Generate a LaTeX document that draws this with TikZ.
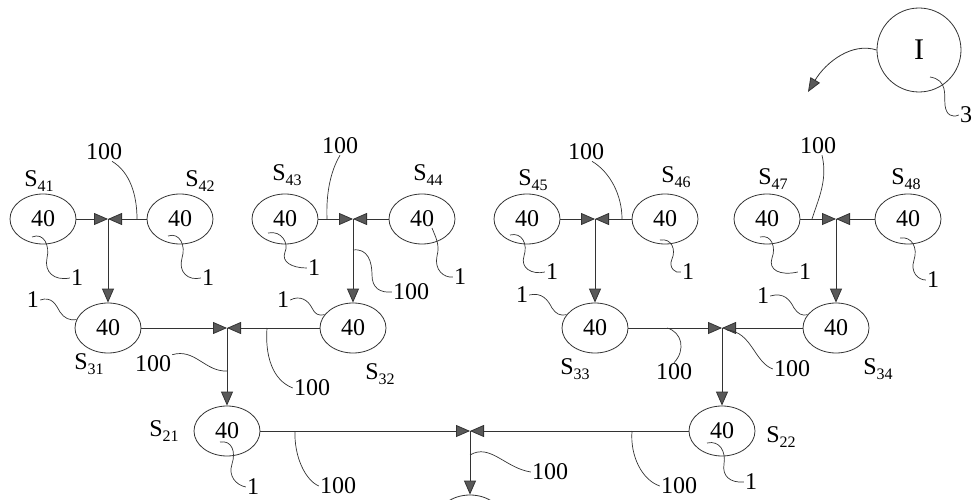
\documentclass[tikz,border=0pt]{standalone}
\usepackage{fontspec}
\setmainfont{Liberation Serif}
\usetikzlibrary{shapes.geometric,arrows.meta,calc}
\newcommand\mfs{\fontsize{24}{24}\selectfont}
\newcommand\sbs[1]{\raisebox{-5pt}{\fontsize{16}{16}\selectfont #1}}
\tikzset{
  unit/.style={ellipse, draw=black!80, line width=0.8pt, minimum width=66pt, minimum height=50pt, inner sep=0pt, font=\mfs},
  lbl/.style={inner sep=1pt, font=\mfs},
  arr/.style={draw=black!80, line width=0.8pt, -{Triangle[length=14pt,width=12pt,fill=black!65]}},
  lead/.style={draw=black!80, line width=0.7pt},
}
\begin{document}
\begin{tikzpicture}[x=1pt,y=-1pt]
\useasboundingbox (0,0) rectangle (972,500);
\clip (0,0) rectangle (972,500);
% ---------- units ----------
\node[unit] (s41) at (43,219) {40};
\node[unit] (s42) at (180,219) {40};
\node[unit] (s43) at (285,219) {40};
\node[unit] (s44) at (422,219) {40};
\node[unit] (s45) at (527,219) {40};
\node[unit] (s46) at (665,219) {40};
\node[unit] (s47) at (767,219) {40};
\node[unit] (s48) at (908,219) {40};
\node[unit] (s31) at (108,328) {40};
\node[unit] (s32) at (353,328) {40};
\node[unit] (s33) at (595,328) {40};
\node[unit] (s34) at (836,328) {40};
\node[unit] (s21) at (227,431) {40};
\node[unit] (s22) at (722,431) {40};
\node[unit] (s1) at (470,520) {};
% ---------- junctions ----------
\coordinate (j41) at (108,219);
\coordinate (j42) at (353,219);
\coordinate (j43) at (595,219);
\coordinate (j44) at (836,219);
\coordinate (j31) at (227,328);
\coordinate (j32) at (722,328);
\coordinate (j2) at (470,431);
% ---------- connectors ----------
\foreach \a/\b/\j/\c in {s41/s42/j41/s31, s43/s44/j42/s32, s45/s46/j43/s33, s47/s48/j44/s34, s31/s32/j31/s21, s33/s34/j32/s22, s21/s22/j2/s1}{
  \draw[arr] (\a) -- (\j);
  \draw[arr] (\b) -- (\j);
  \draw[arr] (\j) -- (\c);
}
% ---------- S labels ----------
\node[lbl] (n41) at (39,181) {S\sbs{41}};
\node[lbl] (n42) at (200,181) {S\sbs{42}};
\node[lbl] (n43) at (287,175) {S\sbs{43}};
\node[lbl] (n44) at (428,175) {S\sbs{44}};
\node[lbl] (n45) at (533,180) {S\sbs{45}};
\node[lbl] (n46) at (676,177) {S\sbs{46}};
\node[lbl] (n47) at (773,179) {S\sbs{47}};
\node[lbl] (n48) at (906,179) {S\sbs{48}};
\node[lbl] (n31) at (89,364) {S\sbs{31}};
\node[lbl] (n32) at (380,374) {S\sbs{32}};
\node[lbl] (n33) at (575,369) {S\sbs{33}};
\node[lbl] (n34) at (878,369) {S\sbs{34}};
\node[lbl] (n21) at (164,431) {S\sbs{21}};
\node[lbl] (n22) at (781,437) {S\sbs{22}};
% ---------- "1" labels and leaders ----------
\node[lbl] (l41) at (77,278) {1};
\node[lbl] (l42) at (208,278) {1};
\node[lbl] (l43) at (314,268) {1};
\node[lbl] (l44) at (460,277) {1};
\node[lbl] (l45) at (552,272) {1};
\node[lbl] (l46) at (688,272) {1};
\node[lbl] (l47) at (805,272) {1};
\node[lbl] (l48) at (933,280) {1};
\draw[lead] (32,237) .. controls (44,232) and (50,246) .. (47,258) .. controls (44,272) and (54,281) .. (l41.west);
\draw[lead] (168,236) .. controls (180,232) and (186,246) .. (182,258) .. controls (178,272) and (188,281) .. (l42.west);
\draw[lead] (268,233) .. controls (282,230) and (289,244) .. (285,252) .. controls (281,262) and (292,268) .. (l43.west);
\draw[lead] (432,228) .. controls (436,238) and (440,245) .. (437,256) .. controls (434,270) and (444,278) .. (l44.west);
\draw[lead] (510,235) .. controls (522,232) and (528,244) .. (524,256) .. controls (520,268) and (532,275) .. (l45.west);
\draw[lead] (660,240) .. controls (672,238) and (676,250) .. (672,259) .. controls (668,268) and (676,274) .. (l46.west);
\draw[lead] (760,237) .. controls (772,234) and (776,248) .. (772,258) .. controls (768,270) and (780,276) .. (l47.west);
\draw[lead] (900,238) .. controls (912,236) and (918,248) .. (914,260) .. controls (910,272) and (918,280) .. (l48.west);
\node[lbl] (m31) at (33,300) {1};
\node[lbl] (m32) at (283,300) {1};
\node[lbl] (m33) at (522,295) {1};
\node[lbl] (m34) at (763,296) {1};
\draw[lead] (m31.east) .. controls (52,296) and (56,305) .. (60,312) .. controls (64,318) and (70,321) .. (s31.165);
\draw[lead] (m32.east) .. controls (300,295) and (308,300) .. (312,308) .. controls (315,314) and (318,316) .. (s32.155);
\draw[lead] (m33.east) .. controls (542,292) and (548,300) .. (552,308) .. controls (556,314) and (560,316) .. (s33.155);
\draw[lead] (m34.east) .. controls (784,292) and (790,300) .. (794,308) .. controls (798,314) and (802,316) .. (s34.155);
\node[lbl] (b21) at (253,487) {1};
\node[lbl] (b22) at (751,482) {1};
\draw[lead] (220,442) .. controls (232,440) and (236,452) .. (232,464) .. controls (228,476) and (236,485) .. (b21.west);
\draw[lead] (707,443) .. controls (720,440) and (726,452) .. (724,464) .. controls (722,476) and (730,483) .. (b22.west);
% ---------- "100" labels and leaders ----------
\node[lbl] (h41) at (104,152) {100};
\node[lbl] (h42) at (340,146) {100};
\node[lbl] (h43) at (586,152) {100};
\node[lbl] (h44) at (818,146) {100};
\node[lbl] (v42) at (411,292) {100};
\node[lbl] (h31a) at (153,364) {100};
\node[lbl] (h31b) at (312,388) {100};
\node[lbl] (h32a) at (674,372) {100};
\node[lbl] (h32b) at (792,369) {100};
\node[lbl] (h2a) at (338,486) {100};
\node[lbl] (h2b) at (550,472) {100};
\node[lbl] (h2c) at (679,486) {100};
\coordinate (c41) at (137,219);
\coordinate (c42) at (327,219);
\coordinate (c43) at (622,219);
\coordinate (c44) at (812,219);
\coordinate (cv42) at (353,250);
\coordinate (c31a) at (227,371);
\coordinate (c31b) at (267,328);
\coordinate (c32a) at (667,328);
\coordinate (c32b) at (727,330);
\coordinate (c2a) at (295,431);
\coordinate (c2b) at (470,455);
\coordinate (c2c) at (632,431);
\draw[lead] (c41) .. controls (137,195) and (130,172) .. ($(h41.south)+(8,0)$);
\draw[lead] (c42) .. controls (326,195) and (330,172) .. (h42.south);
\draw[lead] (c43) .. controls (622,195) and (610,172) .. ($(h43.south)+(6,0)$);
\draw[lead] (c44) .. controls (818,200) and (828,180) .. ($(h44.south)+(4,0)$);
\draw[lead] (cv42) .. controls (368,248) and (372,262) .. (372,275) .. controls (372,288) and (380,293) .. (v42.west);
\draw[lead] (c31a) .. controls (205,372) and (195,348) .. (h31a.north east);
\draw[lead] (c31b) .. controls (265,355) and (272,380) .. (h31b.west);
\draw[lead] (c32a) .. controls (682,332) and (686,350) .. (h32a.north);
\draw[lead] (c32b) .. controls (752,332) and (754,362) .. (h32b.west);
\draw[lead] (c2a) .. controls (294,456) and (305,480) .. (h2a.west);
\draw[lead] (c2b) .. controls (490,443) and (505,468) .. (h2b.west);
\draw[lead] (c2c) .. controls (630,456) and (642,480) .. (h2c.west);
% ---------- detail marker I ----------
\node[circle, draw=black!80, line width=0.8pt, minimum size=84pt, inner sep=0pt, font=\fontsize{30}{30}\selectfont] (cI) at (919,50) {I};
\coordinate (tI) at (808,92);
\draw[draw=black!80, line width=0.8pt, -{Triangle[length=14pt,width=11pt,fill=black!65]}] (cI.west) .. controls (852,42) and (826,62) .. (tI);
\node[lbl] (n3) at (966,115) {3};
\draw[lead] (930,77) .. controls (948,80) and (944,95) .. (945,105) .. controls (946,115) and (952,118) .. (n3.west);
\end{tikzpicture}
\end{document}
